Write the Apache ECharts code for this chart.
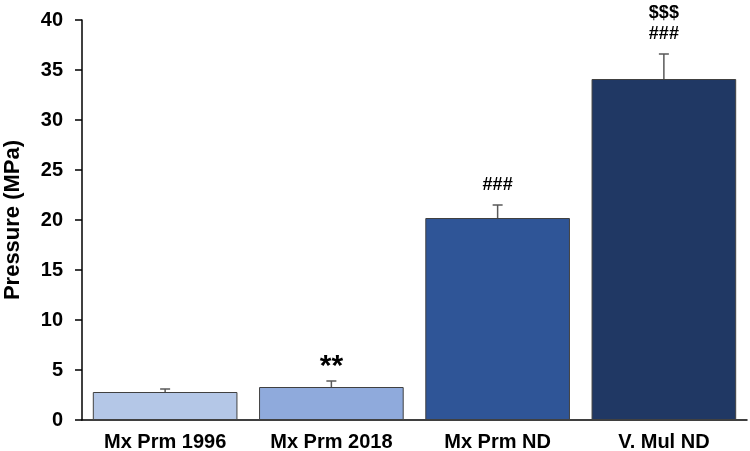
<!DOCTYPE html>
<html><head><meta charset="utf-8">
<script src="https://cdn.jsdelivr.net/npm/echarts@6/dist/echarts.min.js"></script>
<style>html,body{margin:0;padding:0;background:#fff}#c{width:750px;height:451px}</style>
</head><body><div id="c"></div>
<script>
const categories = ['Mx Prm 1996', 'Mx Prm 2018', 'Mx Prm ND', 'V. Mul ND'];
const values = [2.8, 3.3, 20.2, 34.1];
const errors = [0.3, 0.6, 1.3, 2.5];
const annotations = [[], ['**'], ['###'], ['$$$', '###']];
const colors = ['#B4C7E7', '#8FAADC', '#2F5597', '#203864'];
const yTicks = [0, 5, 10, 15, 20, 25, 30, 35, 40];

const FONT = 'Arial, "Liberation Sans", sans-serif';
const chart = echarts.init(document.getElementById('c'));
chart.setOption({
  animation: false,
  grid: {left: 82, right: 3, top: 20, bottom: 31, containLabel: false, outerBoundsMode: 'none'},
  xAxis: {
    type: 'category', data: categories,
    axisLine: {lineStyle: {color: '#000', width: 1.5}},
    axisTick: {show: false},
    axisLabel: {color: '#000', fontWeight: 'bold', fontSize: 20, fontFamily: FONT, margin: 12}
  },
  yAxis: {
    type: 'value', min: yTicks[0], max: yTicks[yTicks.length - 1], interval: 5,
    name: 'Pressure (MPa)', nameLocation: 'middle', nameGap: 58, nameRotate: 90,
    nameTextStyle: {color: '#000', fontWeight: 'bold', fontSize: 22, fontFamily: FONT},
    axisLine: {show: true, lineStyle: {color: '#000', width: 1.5}},
    axisTick: {show: true, inside: false, length: 7, lineStyle: {color: '#000', width: 1.5}},
    splitLine: {show: false},
    axisLabel: {color: '#000', fontWeight: 'bold', fontSize: 20, fontFamily: FONT, margin: 19}
  },
  series: [
    {
      type: 'bar', barCategoryGap: '13%',
      data: values.map((v, i) => ({value: v, itemStyle: {color: colors[i]}})),
      itemStyle: {borderColor: '#404040', borderWidth: 1}
    },
    {
      type: 'custom',
      data: values.map((v, i) => [i, v, v + errors[i]]),
      renderItem: function (params, api) {
        const i = api.value(0);
        const p0 = api.coord([i, api.value(1)]);
        const p1 = api.coord([i, api.value(2)]);
        const children = [
          {type: 'line', shape: {x1: p0[0], y1: p0[1], x2: p1[0], y2: p1[1]}, style: {stroke: '#595959', lineWidth: 1.5}},
          {type: 'line', shape: {x1: p1[0] - 5, y1: p1[1], x2: p1[0] + 5, y2: p1[1]}, style: {stroke: '#595959', lineWidth: 1.5}}
        ];
        const ann = annotations[i];
        for (let k = 0; k < ann.length; k++) {
          const isStar = ann[k] === '**';
          const offset = (ann.length - 1 - k) * 21 + (isStar ? 14 : 20);
          children.push({
            type: 'text',
            style: {
              text: ann[k], x: p1[0], y: p1[1] - offset,
              align: 'center', verticalAlign: 'middle',
              fill: '#000', font: (isStar ? 'bold 30px ' : 'bold 18px ') + FONT
            }
          });
        }
        return {type: 'group', children: children};
      },
      z: 5
    }
  ]
});
</script></body></html>
